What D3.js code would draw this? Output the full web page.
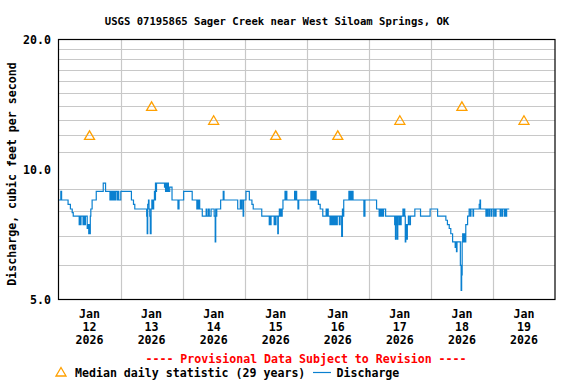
<!DOCTYPE html>
<html>
<head>
<meta charset="utf-8">
<script src="https://cdn.jsdelivr.net/npm/d3@7"></script>
<style>
  body { margin: 0; background: #fff; }
  text { font-family: "DejaVu Sans Mono", "Liberation Mono", monospace; font-weight: bold; }
</style>
</head>
<body>
<script>
// Chart data
const titleText = "USGS 07195865 Sager Creek near West Siloam Springs, OK";
const yLabelText = "Discharge, cubic feet per second";
const provisionalText = "---- Provisional Data Subject to Revision ----";
const legendLabels = ["Median daily statistic (29 years)", "Discharge"];

const days = [12, 13, 14, 15, 16, 17, 18, 19];
const medianCfs = [12, 14, 13, 12, 12, 13, 14, 13];
const yTickLabels = [5, 10, 20];

// discharge: [hours after Jan 12 00:00, cfs] (step changes)
const discharge = [
  [0,8.5],[0.9,8.9],[1.2,8.5],[3.7,8.3],[4.6,8.1],[5.3,7.95],[5.7,7.8],
  [8.0,7.45],[8.3,7.8],[8.5,7.45],[8.7,7.8],[9.5,7.45],[9.8,7.8],[10.1,7.45],[10.4,7.8],
  [11.1,7.3],[11.5,7.45],[11.7,7.1],[11.9,7.45],[12.1,7.1],[12.3,7.8],[12.5,8.1],[13.0,8.5],[14.6,8.9],
  [17.3,9.3],[18.2,8.9],[19.9,8.5],[20.2,8.9],[20.5,8.5],[20.8,8.9],[21.2,8.5],[21.5,8.9],[21.8,8.5],[22.1,8.9],[22.7,8.5],[23.0,8.9],[23.3,8.5],[24.1,8.9],
  [28.2,8.5],[29.0,8.3],[29.5,8.1],[34.1,7.8],[34.3,7.1],[34.5,8.3],[34.8,8.5],[35.0,8.1],[35.3,7.8],[35.5,7.1],[35.8,8.1],[36.1,8.5],[36.4,8.1],[36.8,8.5],[37.1,8.9],[37.3,8.5],[37.5,9.3],[37.7,8.9],[37.9,9.3],
  [41.0,9.1],[41.2,9.3],[41.4,8.9],[41.7,9.3],[42.0,8.9],[42.3,9.3],[42.5,8.9],[43.0,9.1],[43.9,8.5],
  [46.2,8.1],[46.6,8.5],[48.4,8.9],[51.7,8.5],[53.5,8.1],[53.7,8.5],[54.0,8.1],[54.3,8.5],[54.6,8.1],[55.6,7.8],
  [57.1,8.1],[57.4,7.8],[58.0,8.1],[58.3,7.8],[59.0,8.1],[60.2,7.8],[60.6,6.8],[60.8,8.1],[61.0,7.8],[61.2,8.1],[62.7,8.5],[63.7,8.9],[64.0,8.5],
  [69.3,8.1],[70.3,8.5],[70.6,8.1],[70.9,8.5],[71.4,7.8],[71.6,8.5],[72.5,8.9],[73.8,8.5],[74.8,8.3],[75.3,8.1],
  [78.6,7.8],[81.5,7.45],[81.8,7.8],[82.0,7.45],[82.2,7.8],[83.4,7.45],[83.7,7.8],[83.9,7.45],[84.1,7.8],[84.8,7.1],[85.0,7.8],[85.4,8.1],[85.6,7.8],[85.9,8.1],[86.2,7.8],[86.5,8.1],[86.8,8.5],
  [87.6,8.9],[87.8,8.5],[88.0,8.9],[88.3,8.5],[91.3,8.9],[91.6,8.5],[91.8,8.9],[92.1,8.5],[92.6,8.1],[92.9,8.5],
  [97.6,8.9],[97.9,8.5],[98.2,8.9],[98.5,8.5],[98.8,8.9],[99.2,8.5],[99.4,8.9],[99.6,8.5],[100.5,8.3],[101.2,8.1],[102.2,7.8],
  [103.5,8.1],[103.7,7.8],[104.0,8.1],[104.3,7.8],[105.0,7.45],[105.3,7.8],[105.7,7.45],[106.0,7.8],[106.4,7.45],[106.7,7.8],[107.0,7.45],[107.3,7.8],[107.6,7.45],[107.8,7.8],[108.6,7.45],[108.9,7.8],[109.5,7.0],[109.8,8.1],[110.1,7.8],[110.3,8.5],
  [112.3,8.9],[112.6,8.5],[112.9,8.9],[113.3,8.5],[113.6,8.9],[113.9,8.5],[118.1,7.8],[118.5,8.5],[123.0,8.1],
  [124.0,7.8],[124.3,8.1],[124.7,7.8],[125.0,8.1],[125.4,7.8],[125.7,8.1],[126.5,7.8],
  [130.0,7.45],[130.2,7.8],[130.3,6.9],[130.5,7.8],[130.8,7.45],[131.0,6.9],[131.2,7.8],[131.7,7.45],[131.9,7.8],[132.3,7.45],[132.5,7.8],[133.2,8.1],[133.5,7.8],[133.7,8.1],[133.9,7.8],[134.1,6.8],[134.3,7.45],[134.7,6.9],[134.9,7.45],[135.3,7.8],[135.6,7.45],[136.1,7.8],[137.8,8.1],
  [140.0,7.8],[143.7,8.1],[146.6,7.8],[149.8,7.63],[150.4,7.45],[151.1,7.3],[151.7,7.1],[152.4,6.8],[153.4,6.6],[153.7,6.8],[153.9,6.45],[154.1,6.8],[155.4,6.0],[155.7,5.25],[155.9,5.7],[156.1,6.8],[156.3,7.1],[156.5,6.8],[156.9,7.1],[157.1,6.8],[157.5,7.45],[158.2,7.8],[158.8,8.1],[159.3,7.8],[159.5,8.1],
  [160.3,7.8],[160.5,8.1],[162.7,8.3],[163.0,8.5],[163.2,8.1],[165.3,7.8],[165.5,8.1],[165.9,7.8],[166.1,8.1],[166.6,7.8],[166.8,8.1],[167.4,7.8],[167.6,8.1],[168.3,7.8],[168.5,8.1],[169.0,7.8],[169.2,8.1],[170.8,7.8],[171.0,8.1],[171.5,7.8],[171.7,8.1],[172.4,7.8],[172.6,8.1],[173.0,7.8],[173.3,8.1],[174.3,8.1]
];

const width = 576, height = 384;
const margin = { top: 39.5, right: 21, bottom: 84.5, left: 58.5 };

const start = new Date(2026, 0, 12);
const end = new Date(2026, 0, 20);
const hoursToDate = h => new Date(start.getTime() + h * 3600 * 1000);

const svg = d3.select("body").append("svg")
    .attr("width", width)
    .attr("height", height);

// Scales
const xScale = d3.scaleTime()
    .domain([start, end])
    .range([margin.left, width - margin.right]);

const yScale = d3.scaleLog()
    .domain([5, 20])
    .range([height - margin.bottom, margin.top]);

// Grid lines
const yGrid = d3.range(6, 20).filter(v => v !== 10);
svg.append("g").selectAll("line")
    .data(yGrid)
    .join("line")
    .attr("x1", margin.left)
    .attr("x2", width - margin.right)
    .attr("y1", d => Math.round(yScale(d)) + 0.5)
    .attr("y2", d => Math.round(yScale(d)) + 0.5)
    .attr("stroke", "#c8c8c8")
    .attr("stroke-width", 1.2);

svg.append("g").selectAll("line")
    .data(d3.timeDay.range(d3.timeDay.offset(start, 1), end))
    .join("line")
    .attr("x1", d => Math.round(xScale(d)) + 0.5)
    .attr("x2", d => Math.round(xScale(d)) + 0.5)
    .attr("y1", margin.top)
    .attr("y2", height - margin.bottom)
    .attr("stroke", "#c8c8c8")
    .attr("stroke-width", 1.2);

// Y axis labels
svg.append("g").selectAll("text")
    .data(yTickLabels)
    .join("text")
    .attr("x", 51)
    .attr("y", d => yScale(d))
    .attr("dy", "0.36em")
    .attr("text-anchor", "end")
    .style("font-size", "11.6px")
    .text(d => d.toFixed(1));

// X axis labels at noon of each day
const xLab = svg.append("g").selectAll("text")
    .data(days)
    .join("text")
    .attr("x", d => xScale(new Date(2026, 0, d, 12)))
    .attr("text-anchor", "middle")
    .style("font-size", "11.6px");
xLab.append("tspan").attr("x", d => xScale(new Date(2026, 0, d, 12))).attr("y", 318).text("Jan");
xLab.append("tspan").attr("x", d => xScale(new Date(2026, 0, d, 12))).attr("y", 331).text(d => d);
xLab.append("tspan").attr("x", d => xScale(new Date(2026, 0, d, 12))).attr("y", 344).text("2026");

// Discharge line
const line = d3.line()
    .x(d => xScale(hoursToDate(d[0])))
    .y(d => yScale(d[1]))
    .curve(d3.curveStepAfter);

svg.append("path")
    .datum(discharge)
    .attr("d", line)
    .attr("fill", "none")
    .attr("stroke", "#0a80d0")
    .attr("stroke-width", 1.2);

// Median triangles
function triangle(x, y) {
    return `M${x},${y - 4.5}L${x + 5},${y + 4}L${x - 5},${y + 4}Z`;
}
svg.append("g").selectAll("path")
    .data(days.map((d, i) => [d, medianCfs[i]]))
    .join("path")
    .attr("d", d => triangle(xScale(new Date(2026, 0, d[0], 12)), yScale(d[1])))
    .attr("fill", "none")
    .attr("stroke", "#ffa000")
    .attr("stroke-width", 1.3);

// Plot border
svg.append("rect")
    .attr("x", margin.left)
    .attr("y", margin.top)
    .attr("width", width - margin.left - margin.right)
    .attr("height", height - margin.top - margin.bottom)
    .attr("fill", "none")
    .attr("stroke", "black")
    .attr("stroke-width", 1.2);

// Title
svg.append("text")
    .attr("x", 277)
    .attr("y", 24.5)
    .attr("text-anchor", "middle")
    .style("font-size", "10.6px")
    .text(titleText);

// Y label
svg.append("text")
    .attr("transform", "rotate(-90)")
    .attr("x", -174)
    .attr("y", 16)
    .attr("text-anchor", "middle")
    .style("font-size", "11.6px")
    .text(yLabelText);

// Provisional note
svg.append("text")
    .attr("x", 306)
    .attr("y", 363)
    .attr("text-anchor", "middle")
    .attr("fill", "red")
    .style("font-size", "11.6px")
    .text(provisionalText);

// Legend
svg.append("path")
    .attr("d", triangle(61, 372))
    .attr("fill", "none")
    .attr("stroke", "#ffa000")
    .attr("stroke-width", 1.3);
svg.append("text")
    .attr("x", 75)
    .attr("y", 377)
    .style("font-size", "11.6px")
    .text(legendLabels[0]);
svg.append("line")
    .attr("x1", 313)
    .attr("x2", 331)
    .attr("y1", 372.5)
    .attr("y2", 372.5)
    .attr("stroke", "#0a80d0")
    .attr("stroke-width", 1.2);
svg.append("text")
    .attr("x", 336.5)
    .attr("y", 377)
    .style("font-size", "11.6px")
    .text(legendLabels[1]);
</script>
</body>
</html>
